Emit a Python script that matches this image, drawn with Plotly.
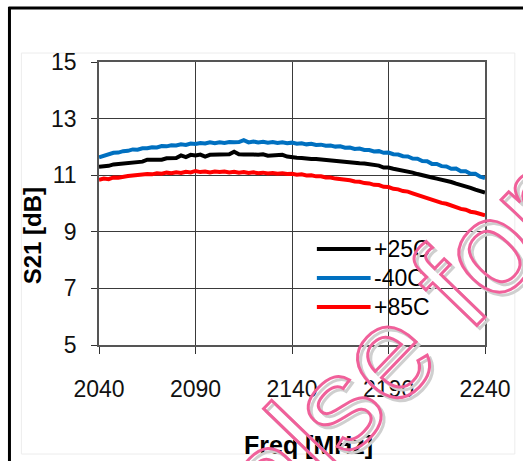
import numpy as np
import plotly.graph_objects as go

# Frequency sweep points (MHz)
freq = np.arange(2040.0, 2240.01, 2.5)

# Measured S21 (dB) per temperature
s21_p25 = [11.30, 11.31, 11.33, 11.38, 11.40, 11.42, 11.41, 11.46, 11.47, 11.48,
           11.55, 11.55, 11.56, 11.55, 11.60, 11.62, 11.61, 11.70, 11.64, 11.72,
           11.70, 11.73, 11.66, 11.72, 11.73, 11.72, 11.74, 11.74, 11.83, 11.74,
           11.73, 11.74, 11.73, 11.72, 11.74, 11.69, 11.70, 11.69, 11.72, 11.66,
           11.63, 11.62, 11.61, 11.58, 11.57, 11.57, 11.55, 11.53, 11.52, 11.51,
           11.48, 11.47, 11.45, 11.44, 11.42, 11.41, 11.38, 11.37, 11.34, 11.27,
           11.27, 11.23, 11.20, 11.17, 11.12, 11.09, 11.04, 11.01, 10.96, 10.92,
           10.88, 10.85, 10.80, 10.76, 10.70, 10.66, 10.61, 10.55, 10.49, 10.45,
           10.39]
s21_m40 = [11.63, 11.68, 11.73, 11.79, 11.80, 11.85, 11.86, 11.91, 11.90, 11.95,
           11.95, 11.99, 11.98, 12.03, 12.02, 12.06, 12.05, 12.09, 12.07, 12.12,
           12.10, 12.14, 12.12, 12.16, 12.13, 12.16, 12.14, 12.17, 12.16, 12.17,
           12.24, 12.16, 12.19, 12.16, 12.18, 12.15, 12.17, 12.14, 12.16, 12.13,
           12.15, 12.11, 12.13, 12.09, 12.11, 12.07, 12.08, 12.04, 12.05, 12.01,
           12.02, 11.97, 11.98, 11.93, 11.94, 11.89, 11.89, 11.84, 11.85, 11.79,
           11.80, 11.74, 11.73, 11.67, 11.66, 11.59, 11.58, 11.50, 11.49, 11.40,
           11.40, 11.32, 11.31, 11.23, 11.24, 11.14, 11.14, 11.05, 11.05, 10.95,
           10.90]
s21_p85 = [10.84, 10.88, 10.86, 10.92, 10.91, 10.95, 10.97, 10.99, 11.01, 11.00,
           11.04, 11.03, 11.07, 11.05, 11.09, 11.07, 11.10, 11.08, 11.12, 11.10,
           11.15, 11.11, 11.13, 11.10, 11.13, 11.11, 11.13, 11.10, 11.12, 11.09,
           11.11, 11.08, 11.10, 11.07, 11.09, 11.06, 11.08, 11.05, 11.07, 11.04,
           11.05, 11.02, 11.03, 10.99, 11.00, 10.96, 10.96, 10.92, 10.92, 10.88,
           10.87, 10.83, 10.82, 10.78, 10.77, 10.72, 10.71, 10.66, 10.65, 10.59,
           10.58, 10.52, 10.50, 10.44, 10.42, 10.36, 10.30, 10.24, 10.18, 10.12,
           10.09, 10.02, 9.99, 9.92, 9.88, 9.81, 9.78, 9.71, 9.68, 9.62,
           9.58]

series_names = ["+25C", "-40C", "+85C"]
series_values = [s21_p25, s21_m40, s21_p85]
series_colors = ["#000000", "#0070C0", "#FF0000"]

x_ticks = [2040, 2090, 2140, 2190, 2240]
y_ticks = [5, 7, 9, 11, 13, 15]

W, H = 523, 461
ML, MR, MT, MB = 99, 36, 62, 116
PW, PH = W - ML - MR, H - MT - MB


def px(x):
    return (x - ML) / PW


def py(y):
    return (H - MB - y) / PH


FONT = "Arial, 'Liberation Sans', sans-serif"

fig = go.Figure()
for name, vals, col in zip(series_names, series_values, series_colors):
    fig.add_trace(go.Scatter(x=freq, y=vals, mode="lines", name=name,
                             line=dict(color=col, width=4), showlegend=False))

shapes = [
    # outer frame (top and left edges)
    dict(type="line", xref="paper", yref="paper", x0=px(8), x1=px(W + 5),
         y0=py(8), y1=py(8), line=dict(color="black", width=3)),
    dict(type="line", xref="paper", yref="paper", x0=px(9), x1=px(9),
         y0=py(7), y1=py(H + 5), line=dict(color="black", width=3)),
    # chart area box
    dict(type="rect", xref="paper", yref="paper", x0=px(21), x1=px(517),
         y0=py(53), y1=py(454), line=dict(color="#ececec", width=1),
         layer="below"),
]

annotations = []
# legend
legend_rows = [249, 278, 307]
for name, col, ry in zip(series_names, series_colors, legend_rows):
    shapes.append(dict(type="line", xref="paper", yref="paper",
                       x0=px(318), x1=px(372), y0=py(ry), y1=py(ry),
                       line=dict(color=col, width=4)))
    annotations.append(dict(xref="paper", yref="paper", x=px(373), y=py(ry),
                            text=name, showarrow=False, xanchor="left",
                            yanchor="middle",
                            font=dict(family=FONT, size=23, color="black")))

# axis titles
annotations.append(dict(xref="paper", yref="paper", x=px(33), y=py(236),
                        text="<b>S21 [dB]</b>", showarrow=False, textangle=-90,
                        xanchor="center", yanchor="middle",
                        font=dict(family=FONT, size=24, color="black")))
annotations.append(dict(xref="paper", yref="paper", x=px(310), y=py(445),
                        text="<b>Freq [MHz]</b>", showarrow=False,
                        xanchor="center", yanchor="middle",
                        font=dict(family=FONT, size=25, color="black")))

# diagonal outlined stamp text (gray offset copy, then pink)
WM_TEXT = "false for"
WM_SIZE = 132
for col, dx, dy in [("#cfcfcf", 3, -3), ("#f0609a", 0, 0)]:
    annotations.append(dict(xref="paper", yref="paper", x=px(381), y=py(360),
                            xshift=dx, yshift=dy, text=WM_TEXT,
                            showarrow=False, textangle=-46,
                            xanchor="center", yanchor="middle",
                            font=dict(family=FONT, size=WM_SIZE, color=col)))

fig.update_layout(
    width=W, height=H,
    margin=dict(l=ML, r=MR, t=MT, b=MB, pad=0),
    paper_bgcolor="white", plot_bgcolor="white",
    shapes=shapes, annotations=annotations,
    xaxis=dict(range=[2040, 2240], tickvals=x_ticks, showgrid=True,
               gridcolor="#3a3a3a", gridwidth=1, zeroline=False,
               showline=True, linecolor="#555555", linewidth=1.5, mirror=True,
               ticks="outside", ticklen=7, tickcolor="#333333",
               ticklabelstandoff=16,
               tickfont=dict(family=FONT, size=23, color="#111111")),
    yaxis=dict(range=[5, 15], tickvals=y_ticks, showgrid=True,
               gridcolor="#3a3a3a", gridwidth=1, zeroline=False,
               showline=True, linecolor="#555555", linewidth=1.5, mirror=True,
               ticks="outside", ticklen=6, tickcolor="#333333",
               ticklabelstandoff=10,
               tickfont=dict(family=FONT, size=23, color="#111111")),
)

# draw the stamp text as hollow outlines
outline_js = """
var gd = document.getElementById('{plot_id}');
gd.querySelectorAll('text.annotation-text').forEach(function (t) {
  if (t.style.fontSize === '%dpx') {
    var c = t.style.fill;
    t.style.fill = 'none';
    t.style.stroke = c;
    t.style.strokeWidth = '3px';
  }
});
""" % WM_SIZE

fig.write_html("out.html", post_script=outline_js)
